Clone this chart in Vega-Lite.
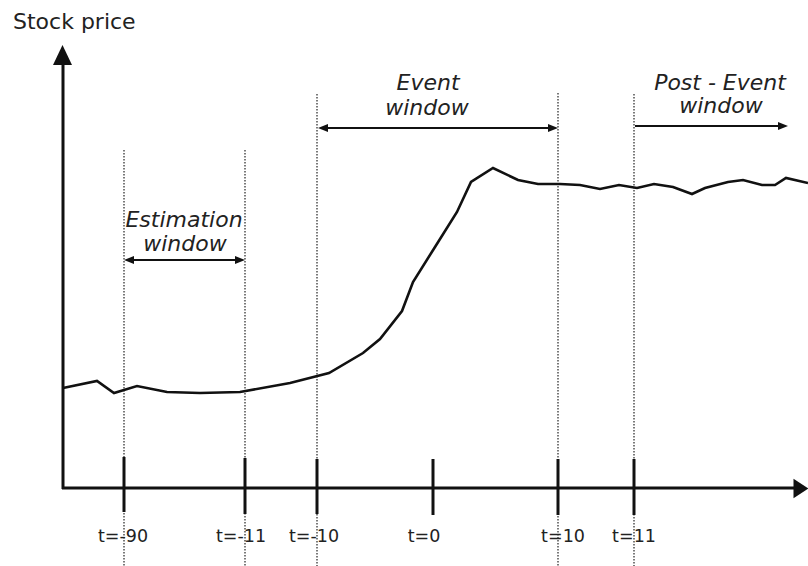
{
  "$schema": "https://vega.github.io/schema/vega-lite/v6.json",
  "width": 808,
  "height": 566,
  "padding": 0,
  "autosize": {"type": "none"},
  "background": "white",
  "config": {"view": {"stroke": null}},
  "datasets": {
    "curve": [
      {"x": 63, "y": 388}, {"x": 97, "y": 381}, {"x": 114, "y": 393}, {"x": 137, "y": 386},
      {"x": 167, "y": 392}, {"x": 200, "y": 393}, {"x": 240, "y": 392}, {"x": 290, "y": 383},
      {"x": 329, "y": 373}, {"x": 363, "y": 353}, {"x": 380, "y": 339}, {"x": 402, "y": 311},
      {"x": 413, "y": 282}, {"x": 435, "y": 247}, {"x": 457, "y": 212}, {"x": 471, "y": 182},
      {"x": 493, "y": 168}, {"x": 518, "y": 180}, {"x": 538, "y": 184}, {"x": 560, "y": 184},
      {"x": 580, "y": 185}, {"x": 600, "y": 189}, {"x": 619, "y": 185}, {"x": 637, "y": 188},
      {"x": 654, "y": 184}, {"x": 673, "y": 187}, {"x": 692, "y": 194}, {"x": 705, "y": 188},
      {"x": 728, "y": 182}, {"x": 743, "y": 180}, {"x": 762, "y": 185}, {"x": 775, "y": 185},
      {"x": 786, "y": 178}, {"x": 808, "y": 183}
    ],
    "dotted": [
      {"x": 124, "y": 150, "y2": 566},
      {"x": 245, "y": 150, "y2": 566},
      {"x": 317, "y": 94, "y2": 566},
      {"x": 558, "y": 93, "y2": 566},
      {"x": 634, "y": 94, "y2": 566}
    ],
    "axes": [
      {"x": 63, "x2": 63, "y": 489, "y2": 62},
      {"x": 62, "x2": 796, "y": 488, "y2": 488}
    ],
    "ticks": [
      {"x": 124, "y": 457, "y2": 512, "label": "t=-90", "lx": 123},
      {"x": 245, "y": 458, "y2": 514, "label": "t=-11", "lx": 241},
      {"x": 317, "y": 459, "y2": 514, "label": "t=-10", "lx": 314},
      {"x": 433, "y": 459, "y2": 515, "label": "t=0", "lx": 424},
      {"x": 558, "y": 459, "y2": 515, "label": "t=10", "lx": 563},
      {"x": 634, "y": 459, "y2": 515, "label": "t=11", "lx": 634}
    ],
    "shafts": [
      {"x": 130, "x2": 239, "y": 260},
      {"x": 323, "x2": 552, "y": 128},
      {"x": 635, "x2": 782, "y": 126}
    ],
    "leftHeads": [
      {"x": 129, "y": 260},
      {"x": 323, "y": 128}
    ],
    "rightHeads": [
      {"x": 240, "y": 260},
      {"x": 553, "y": 128},
      {"x": 783, "y": 126}
    ],
    "labels": [
      {"x": 184, "y": 227, "text": "Estimation"},
      {"x": 185, "y": 251, "text": "window"},
      {"x": 428, "y": 90, "text": "Event"},
      {"x": 427, "y": 115, "text": "window"},
      {"x": 720, "y": 90, "text": "Post - Event"},
      {"x": 721, "y": 113, "text": "window"}
    ]
  },
  "encoding": {
    "x": {"field": "x", "type": "quantitative", "scale": {"domain": [0, 808], "nice": false, "zero": false}, "axis": null},
    "y": {"field": "y", "type": "quantitative", "scale": {"domain": [566, 0], "nice": false, "zero": false}, "axis": null}
  },
  "layer": [
    {
      "data": {"name": "dotted"},
      "mark": {"type": "rule", "color": "#333333", "strokeWidth": 1.3, "strokeDash": [1.5, 1.5]},
      "encoding": {"y2": {"field": "y2"}}
    },
    {
      "data": {"name": "axes"},
      "mark": {"type": "rule", "color": "#111111", "strokeWidth": 3},
      "encoding": {"x2": {"field": "x2"}, "y2": {"field": "y2"}}
    },
    {
      "data": {"name": "ticks"},
      "mark": {"type": "rule", "color": "#111111", "strokeWidth": 3},
      "encoding": {"y2": {"field": "y2"}}
    },
    {
      "data": {"name": "ticks"},
      "mark": {"type": "text", "font": "DejaVu Sans", "fontSize": 17.5, "color": "#222222", "align": "center", "baseline": "alphabetic"},
      "encoding": {"x": {"field": "lx", "type": "quantitative"}, "y": {"datum": 542}, "text": {"field": "label"}}
    },
    {
      "data": {"name": "curve"},
      "mark": {"type": "line", "color": "#111111", "strokeWidth": 2.6, "strokeJoin": "miter"},
      "encoding": {}
    },
    {
      "data": {"name": "shafts"},
      "mark": {"type": "rule", "color": "#111111", "strokeWidth": 1.8},
      "encoding": {"x2": {"field": "x2"}}
    },
    {
      "data": {"name": "leftHeads"},
      "mark": {"type": "point", "filled": true, "opacity": 1, "color": "#111111", "strokeWidth": 0, "size": 100, "shape": "M-1,0L1,-0.8L1,0.8Z"},
      "encoding": {}
    },
    {
      "data": {"name": "rightHeads"},
      "mark": {"type": "point", "filled": true, "opacity": 1, "color": "#111111", "strokeWidth": 0, "size": 100, "shape": "M1,0L-1,-0.8L-1,0.8Z"},
      "encoding": {}
    },
    {
      "data": {"values": [{"x": 62.5, "y": 55}]},
      "mark": {"type": "point", "filled": true, "opacity": 1, "color": "#111111", "strokeWidth": 0, "size": 400, "shape": "M0,-1L0.95,1L-0.95,1Z"},
      "encoding": {}
    },
    {
      "data": {"values": [{"x": 801, "y": 488.5}]},
      "mark": {"type": "point", "filled": true, "opacity": 1, "color": "#111111", "strokeWidth": 0, "size": 225, "shape": "M1,0L-1,-1.3L-1,1.3Z"},
      "encoding": {}
    },
    {
      "data": {"name": "labels"},
      "mark": {"type": "text", "font": "DejaVu Sans", "fontSize": 22, "fontStyle": "italic", "color": "#222222", "align": "center", "baseline": "alphabetic"},
      "encoding": {"text": {"field": "text"}}
    },
    {
      "data": {"values": [{"x": 13, "y": 29, "text": "Stock price"}]},
      "mark": {"type": "text", "font": "DejaVu Sans", "fontSize": 22, "color": "#222222", "align": "left", "baseline": "alphabetic"},
      "encoding": {"text": {"field": "text"}}
    }
  ]
}
